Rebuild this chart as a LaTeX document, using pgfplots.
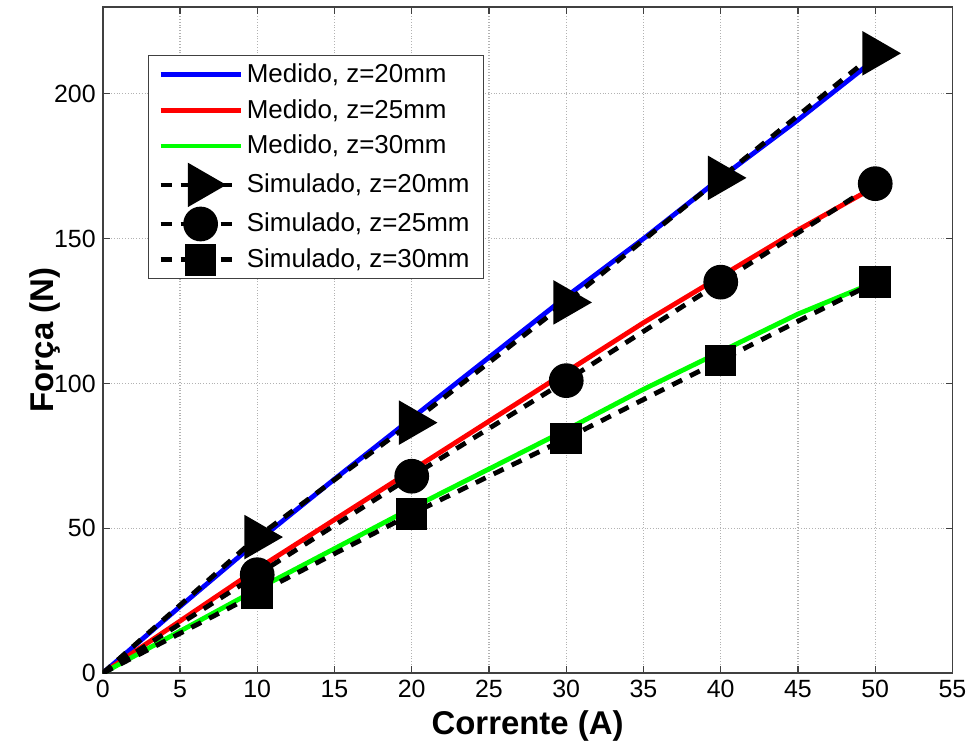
\documentclass[border=0pt]{standalone}
\usepackage{fontspec}
\setmainfont{Liberation Sans}
\usepackage{pgfplots}
\pgfplotsset{compat=1.18}

\definecolor{medblue}{RGB}{0,0,255}
\definecolor{medred}{RGB}{255,0,0}
\definecolor{medgreen}{RGB}{0,255,0}

\begin{document}
\begin{tikzpicture}
\begin{axis}[
    name=ax,
    scale only axis,
    width=426pt, height=334pt,
    xmin=0, xmax=55, ymin=0, ymax=230,
    xtick={0,5,...,55},
    ytick={0,50,...,200},
    tick align=inside,
    major tick length=3.5pt,
    grid=major,
    major grid style={densely dotted, gray!60, line width=0.6pt},
    axis line style={gray!50!black, line width=0.8pt},
    every tick/.style={gray!50!black, line width=0.6pt},
    /pgf/number format/assume math mode=true,
    tick label style={font=\fontsize{12.5}{14}\selectfont},
    xlabel={\textbf{Corrente (A)}},
    ylabel={\textbf{Força (N)}},
    label style={font=\fontsize{16.5}{19}\selectfont},
    xlabel style={at={(axis description cs:0.5,-0.079)}, anchor=center},
    ylabel style={at={(axis description cs:-0.068,0.5)}, anchor=center},
    legend style={
        at={(axis description cs:0.053,0.928)}, anchor=north west,
        font=\fontsize{13}{15}\selectfont,
        draw=gray!50!black, line width=0.6pt,
        inner xsep=5pt, inner ysep=2pt,
        row sep=3pt,
    },
    legend cell align=left,
    legend image code/.code={
        \draw[mark indices={2}] plot coordinates {(0pt,0pt) (20pt,0pt) (40pt,0pt)};
    },
    sim/.style={black, line width=2.4pt, dash pattern=on 5.5pt off 4.5pt,
        mark indices={2,3,4,5,6}},
]

\addplot[medblue, line width=2.4pt] coordinates {
    (0,0) (5,23) (10,45.5) (15,67) (20,88) (25,109) (30,130) (35,150) (40,171) (45,191) (50,212)
};
\addlegendentry{Medido, z=20mm}
\addplot[medred, line width=2.4pt] coordinates {
    (0,0) (5,18) (10,36) (15,53) (20,70) (25,87) (30,104) (35,121) (40,137) (45,153) (50,168)
};
\addlegendentry{Medido, z=25mm}
\addplot[medgreen, line width=2.4pt] coordinates {
    (0,0) (5,14.5) (10,29) (15,43) (20,57) (25,70.5) (30,84) (35,98) (40,111) (45,124) (50,135)
};
\addlegendentry{Medido, z=30mm}

\addplot[sim, mark=triangle*, mark size=10.5pt, mark options={solid, fill=black, rotate=-90}] coordinates {
    (0,0) (10,47) (20,86.5) (30,128) (40,171) (50,214)
};
\addlegendentry{Simulado, z=20mm}
\addplot[sim, mark=*, mark size=7.5pt, mark options={solid, fill=black}] coordinates {
    (0,0) (10,34) (20,68) (30,101) (40,135) (50,169)
};
\addlegendentry{Simulado, z=25mm}
\addplot[sim, mark=square*, mark size=6.7pt, mark options={solid, fill=black}] coordinates {
    (0,0) (10,27.5) (20,55) (30,81) (40,108) (50,135)
};
\addlegendentry{Simulado, z=30mm}
\end{axis}
\path (ax.south west) ++(-51.5pt,-38pt);
\path (ax.north east) ++(9pt,3.5pt);
\end{tikzpicture}
\end{document}
